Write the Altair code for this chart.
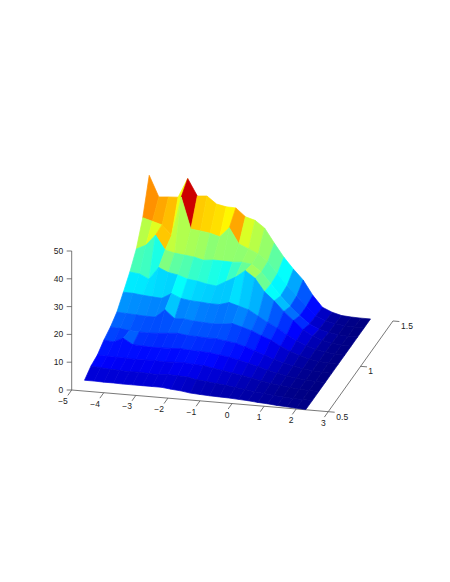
import altair as alt
import pandas as pd

X_TICKS = [-5, -4, -3, -2, -1, 0, 1, 2, 3]
Y_TICKS = [0.5, 1, 1.5]
Z_TICKS = [0, 10, 20, 30, 40, 50]
X0 = -4.6
DX = 0.3
DY = 0.1

Z00 = [3.9,3.9,3.8,3.8,3.7,3.7,3.7,3.7,3.7,3.3,3,2.5,2.3,2.1,2,1.9,1.7,1.5,1.2,1,.7,.5,.3,.1]
Z01 = [5.8,5.4,5.2,5,4.9,5,4.8,4.7,5,4.9,4.7,4,3.7,3.3,2.9,2.4,2,1.5,1.1,.7,.45,.25,.1,.05]
Z02 = [6.5,6.3,6.2,6.2,6,6.1,6.2,6,6.2,6.3,6,5.9,5.2,4.7,4.1,3.5,2.8,2.1,1.5,1,.6,.3,.1,.05]
Z03 = [8.6,8.2,9.8,7.8,7.6,7.4,7.5,7.6,7.8,7.5,7.4,7.2,6.7,6.2,5.5,4.6,3.7,2.7,1.9,1.2,.7,.35,.1,.05]
Z04 = [10,9.8,9.3,9.1,9,9.2,9.5,9.8,9.3,9.2,9,9,8.5,8,7,5.8,4.6,3.4,2.3,1.5,.8,.4,.15,.05]
Z05 = [12.1,11.9,11.7,11.5,11.5,14.4,11.5,11.7,11.2,11,10.8,11,11.5,10.5,9.5,8,6.7,4.8,3.2,2,1,.5,.2,.05]
Z06 = [16,15.9,15.5,15.2,15,17,15.5,15,14.8,14.5,14.5,15.5,14.5,13.5,11.5,9.5,7.8,5.7,3.8,2.3,1.2,.5,.2,.05]
Z07 = [20,19.6,18,22.5,21,20.4,19.2,18.8,18,17.6,19.5,21.4,24,21.6,17,14,10.5,7.5,4.5,2.5,1.2,.5,.2,.05]
Z08 = [25,26.7,30.6,25.5,24.7,24.3,23.9,23,23.4,23.3,23.2,23.5,23,20.5,16.5,12.5,9,6,3.3,1.7,.8,.3,.1,.05]
Z09 = [33,32,31,27.5,41.6,30.4,30,29.5,28.5,32,26.5,25,23.5,21,17,13,9.5,6,3,1.4,.7,.3,.1,.05]
Z10 = [45,37.5,37.8,38,45,39,39.3,36.7,36,35.9,33,32,29.5,24.4,19.6,15.6,12,6.8,2.8,1.3,.4,.15,.05,.05]
ROWS = [Z00, Z01, Z02, Z03, Z04, Z05, Z06, Z07, Z08, Z09, Z10]

JET_DOMAIN = [0, 5.625, 16.875, 28.125, 39.375, 45]
JET_RANGE = ["#000080", "#0000ff", "#00ffff", "#ffff00", "#ff0000", "#800000"]
AXIS = "#555555"
FONT = "Liberation Sans"


def proj(x, y, z):
    return (71.7 + (x + 5) * 32.07 + (y - 0.5) * 64.7,
            390 + (x + 5) * 2.71 - (y - 0.5) * 90.7 - z * 2.78)


cells = []
q = 0
for k in range(len(ROWS) - 2, -1, -1):
    for c in range(len(ROWS[0]) - 1):
        tint = ROWS[k][c]
        corners = [(k, c), (k, c + 1), (k + 1, c + 1), (k + 1, c), (k, c)]
        for v, (a, b) in enumerate(corners):
            sx, sy = proj(X0 + DX * b, 0.5 + DY * a, ROWS[a][b])
            cells.append({"sx": sx, "sy": sy, "q": q, "o": q * 5 + v, "t": tint})
        q += 1
cells = pd.DataFrame(cells)

SX = alt.Scale(domain=[8, 442], range=[0, 434])
SY = alt.Scale(domain=[8, 574], range=[0, 566])
jet = alt.Scale(domain=JET_DOMAIN, range=JET_RANGE, interpolate="rgb")

surface = alt.Chart(cells).mark_line(strokeWidth=0.7, strokeJoin="round").encode(
    x=alt.X("sx:Q", scale=SX, axis=None),
    y=alt.Y("sy:Q", scale=SY, axis=None),
    detail="q:N",
    order=alt.Order("o:Q"),
    fill=alt.Fill("t:Q", scale=jet, legend=None),
    stroke=alt.Stroke("t:Q", scale=jet, legend=None),
)

segs = []
texts = []


def seg(a, b):
    segs.append({"x1": a[0], "y1": a[1], "x2": b[0], "y2": b[1]})


seg(proj(-5, 0.5, 0), proj(3, 0.5, 0))
seg(proj(3, 0.5, 0), proj(3, 1.5, 0))
seg(proj(-5, 0.5, 0), proj(-5, 0.5, 50))
for t in X_TICKS:
    p = proj(t, 0.5, 0)
    seg(p, proj(t, 0.44, 0))
    label = str(t).replace("-", "\u2212")
    texts.append({"x": p[0] - (8.7 if t < 0 else 5), "y": p[1] + 11, "s": label})
for t in Y_TICKS:
    p = proj(3, t, 0)
    seg(p, proj(3.2, t, 0))
    texts.append({"x": p[0] + (14 if t != 1 else 10), "y": p[1] + 5, "s": str(t)})
for t in Z_TICKS:
    p = proj(-5, 0.5, t)
    seg(p, (p[0] + 5 * -1, p[1]))
    texts.append({"x": p[0] - 8.5, "y": p[1], "s": str(t), "a": "z"})
segs = pd.DataFrame(segs)
texts = pd.DataFrame(texts)

axes = alt.Chart(segs).mark_rule(color=AXIS, strokeWidth=0.8).encode(
    x=alt.X("x1:Q", scale=SX, axis=None),
    x2="x2:Q",
    y=alt.Y("y1:Q", scale=SY, axis=None),
    y2="y2:Q",
)
base = alt.Chart(texts)
labels_c = base.transform_filter("datum.a != 'z'").mark_text(
    font=FONT, fontSize=8.5, color="#222222", align="center", baseline="middle"
).encode(
    x=alt.X("x:Q", scale=SX, axis=None),
    y=alt.Y("y:Q", scale=SY, axis=None),
    text="s:N",
)
labels_r = base.transform_filter("datum.a == 'z'").mark_text(
    font=FONT, fontSize=8.5, color="#222222", align="right", baseline="middle"
).encode(
    x=alt.X("x:Q", scale=SX, axis=None),
    y=alt.Y("y:Q", scale=SY, axis=None),
    text="s:N",
)

chart = alt.layer(axes, surface, labels_c, labels_r).resolve_scale(
    fill="independent", stroke="independent"
).properties(
    width=434, height=566, padding=0, autosize=alt.AutoSizeParams(type="none"),
    background="white",
).configure_view(stroke=None)

chart.save("out.html", embed_options={"renderer": "svg", "actions": False})
